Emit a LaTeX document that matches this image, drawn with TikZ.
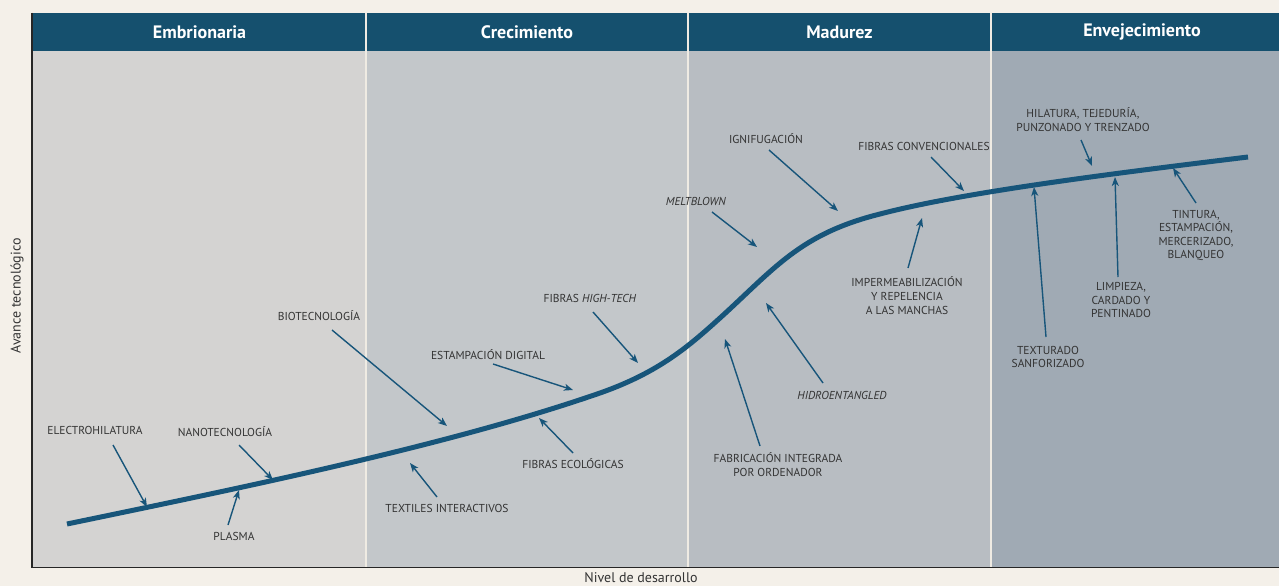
\documentclass[tikz,border=0pt]{standalone}
\usepackage{fontspec}
\setmainfont{PT Sans}
\usetikzlibrary{arrows.meta}
\definecolor{bgc}{HTML}{F4F0E9}
\definecolor{hdr}{HTML}{15506E}
\definecolor{pone}{HTML}{D4D3D2}
\definecolor{ptwo}{HTML}{C3C7CA}
\definecolor{pthree}{HTML}{B8BDC2}
\definecolor{pfour}{HTML}{A0AAB4}
\definecolor{curvec}{HTML}{17557A}
\definecolor{txt}{HTML}{333333}
\definecolor{divc}{HTML}{EFEBE3}
\tikzset{
  lbl/.style={font=\fontsize{11.5}{13.6}\selectfont, align=center, inner sep=0pt, text=txt},
  hdrtxt/.style={font=\fontsize{18}{20}\selectfont\bfseries, text=white, inner sep=0pt},
  axlbl/.style={font=\fontsize{14}{16}\selectfont, text=txt, inner sep=0pt},
  pointer/.style={draw=curvec, line width=1.4pt, -{Stealth[length=9pt,width=7pt,inset=2.5pt]}},
  curveline/.style={draw=curvec, line width=5pt},
  divider/.style={draw=divc, line width=1.8pt},
  axisline/.style={draw=black!85, line width=1.8pt}
}
\begin{document}
\begin{tikzpicture}[x=1pt,y=-1pt]
\fill[bgc] (0,0) rectangle (1279,586);
\useasboundingbox (0,0) rectangle (1279,586);
% panels
\fill[pone] (33,51) rectangle (366,567);
\fill[ptwo] (366,51) rectangle (688,567);
\fill[pthree] (688,51) rectangle (991,567);
\fill[pfour] (991,51) rectangle (1279,567);
% header
\fill[hdr] (33,13) rectangle (1279,51);
\draw[divider] (366,13) -- (366,567);
\draw[divider] (688,13) -- (688,567);
\draw[divider] (991,13) -- (991,567);
\node[hdrtxt] (h1) at (199.5,32) {Embrionaria};
\node[hdrtxt] (h2) at (527,32) {Crecimiento};
\node[hdrtxt] (h3) at (839.5,32) {Madurez};
\node[hdrtxt] (h4) at (1142,32) {Envejecimiento};
% axes
\draw[axisline] (32,13) -- (32,567.5) -- (1279,567.5);
\node[axlbl, rotate=90] (ya) at (17,296) {Avance tecnológico};
\node[axlbl] (xa) at (641,578) {Nivel de desarrollo};
% curve
\draw[curveline] (67,524) .. controls (250,486) and (450,445) .. (600,393)
  .. controls (660,372) and (690,345) .. (720,318)
  .. controls (775,268) and (800,234) .. (880,214)
  .. controls (960,193) and (1100,175) .. (1248,157);
% labels
\node[lbl] (l1) at (95,430) {ELECTROHILATURA};
\node[lbl] (l2) at (225,432) {NANOTECNOLOGÍA};
\node[lbl] (l3) at (234,536) {PLASMA};
\node[lbl] (l4) at (319,316) {BIOTECNOLOGÍA};
\node[lbl] (l5) at (447,508) {TEXTILES INTERACTIVOS};
\node[lbl] (l6) at (488,355) {ESTAMPACIÓN DIGITAL};
\node[lbl] (l7) at (573,464) {FIBRAS ECOLÓGICAS};
\node[lbl] (l8) at (590,298) {FIBRAS \textit{HIGH-TECH}};
\node[lbl] (l9) at (696,201) {\textit{MELTBLOWN}};
\node[lbl] (l10) at (766,139) {IGNIFUGACIÓN};
\node[lbl] (l11) at (924,146) {FIBRAS CONVENCIONALES};
\node[lbl] (l12) at (907,295.5) {IMPERMEABILIZACIÓN\\Y REPELENCIA\\A LAS MANCHAS};
\node[lbl] (l13) at (842,395) {\textit{HIDROENTANGLED}};
\node[lbl] (l14) at (778,464.5) {FABRICACIÓN INTEGRADA\\POR ORDENADOR};
\node[lbl] (l15) at (1083,119.5) {HILATURA, TEJEDURÍA,\\PUNZONADO Y TRENZADO};
\node[lbl] (l16) at (1048,357) {TEXTURADO\\SANFORIZADO};
\node[lbl] (l17) at (1121,300) {LIMPIEZA,\\CARDADO Y\\PENTINADO};
\node[lbl] (l18) at (1196,235.5) {TINTURA,\\ESTAMPACIÓN,\\MERCERIZADO,\\BLANQUEO};
% arrow endpoints
\coordinate (a1) at (113,445); \coordinate (b1) at (147,507);
\coordinate (a2) at (239,445); \coordinate (b2) at (273,480);
\coordinate (a3) at (228,525); \coordinate (b3) at (239,490);
\coordinate (a4) at (332,330); \coordinate (b4) at (447,426);
\coordinate (a5) at (437,497); \coordinate (b5) at (410,463);
\coordinate (a6) at (493,364); \coordinate (b6) at (573,390);
\coordinate (a7) at (573,453); \coordinate (b7) at (539,418);
\coordinate (a8) at (593,312); \coordinate (b8) at (638,363);
\coordinate (a9) at (712,212); \coordinate (b9) at (757,247);
\coordinate (a10) at (769,150); \coordinate (b10) at (838,211);
\coordinate (a11) at (931,157); \coordinate (b11) at (964,191);
\coordinate (a12) at (908,268); \coordinate (b12) at (922,218);
\coordinate (a13) at (823,383); \coordinate (b13) at (766,303);
\coordinate (a14) at (760,446); \coordinate (b14) at (725,339);
\coordinate (a15) at (1081,140); \coordinate (b15) at (1092,166);
\coordinate (a16) at (1046,337); \coordinate (b16) at (1034,187);
\coordinate (a17) at (1118,277); \coordinate (b17) at (1115,177);
\coordinate (a18) at (1196,203); \coordinate (b18) at (1173,168);
\foreach \i in {1,...,18} { \draw[pointer] (a\i) -- (b\i); }
\end{tikzpicture}
\end{document}
